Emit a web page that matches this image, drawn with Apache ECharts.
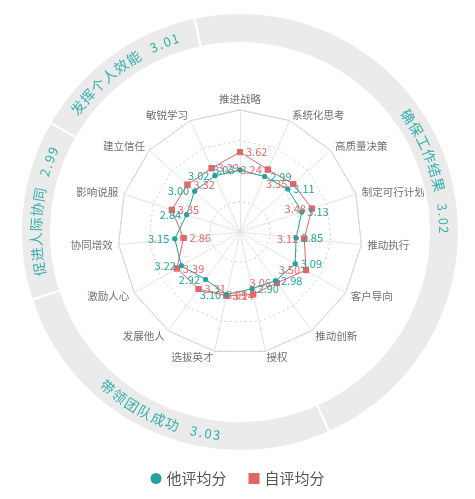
<!DOCTYPE html>
<html><head><meta charset="utf-8">
<script src="https://cdn.jsdelivr.net/npm/echarts@6/dist/echarts.min.js"></script>
<style>html,body{margin:0;padding:0;background:#fff}#c{width:475px;height:499px}</style>
</head><body><div id="c"></div>
<script>
// ---- data (listed clockwise from the top) ----
const indicators = ['推进战略','系统化思考','高质量决策','制定可行计划','推动执行','客户导向','推动创新','授权','选拔英才','发展他人','激励人心','协同增效','影响说服','建立信任','敏锐学习'];
const otherScores = [3.03, 2.99, 3.11, 3.13, 2.85, 3.09, 2.98, 2.90, 3.10, 2.92, 3.22, 3.15, 2.84, 3.00, 3.02];
const selfScores  = [3.62, 3.24, 3.35, 3.48, 3.12, 3.50, 3.06, 3.09, 3.14, 3.31, 3.39, 2.86, 3.35, 3.32, 3.29];
const groupNames  = ['确保工作结果','带领团队成功','促进人际协同','发挥个人效能'];
const groupSizes  = [7, 4, 2, 2];
const groupScores = ['3.02','3.03','2.99','3.01'];
const seriesNames = ['他评均分','自评均分'];
const axisMin = 1, axisMax = 5;

// ---- layout / style ----
const CX = 240, CY = 232, R = 122, RING_IN = 189, RING_OUT = 219;
const TEAL = '#23a29f', RED = '#e06767', RING_TEXT = '#36b0ad';
const FONT = '"Noto Sans CJK SC", "Microsoft YaHei", sans-serif';
const n = indicators.length, step = 360 / n;

// ECharts lays radar indicators counter-clockwise; reorder so they read clockwise
const order = indicators.map((_, k) => k === 0 ? 0 : n - k);
const reorder = arr => order.map(i => arr[i]);
const isRightOrig = i => { const a = i * step; return a > 0 && a < 180; };
const isRight = k => isRightOrig(order[k]);

function labelCfg(color, position, filter) {
  return {
    show: true, position, distance: 3, color, fontSize: 11, fontFamily: FONT,
    formatter: p => (p.dimensionIndex == null || filter(p.dimensionIndex)) ? Number(p.value).toFixed(2) : ''
  };
}
function item(name, values, color, symbol, size, position, filter, showLine) {
  return {
    name, value: reorder(values), symbol, symbolSize: size,
    itemStyle: { color },
    lineStyle: showLine ? { color, width: 1 } : { color, width: 0, opacity: 0 },
    label: labelCfg(color, position, filter)
  };
}

// ring text (characters laid along the ring)
function ringText() {
  const els = [];
  const rMid = (RING_IN + RING_OUT) / 2;
  let cum = 0;
  groupNames.forEach((g, gi) => {
    const startDeg = -step / 2 + cum * step;
    const centerDeg = startDeg + groupSizes[gi] * step / 2;
    cum += groupSizes[gi];
    const chars = [];
    for (const ch of g) chars.push({ ch, w: 15, size: 14 });
    chars.push({ ch: '', w: 11 });
    for (const ch of groupScores[gi]) chars.push({ ch, w: ch === '.' ? 6 : 8.5, size: 13 });
    const total = chars.reduce((s, c) => s + c.w, 0);
    const inward = centerDeg > 90 && centerDeg < 270;
    let off = 0;
    chars.forEach(c => {
      const mid = off + c.w / 2; off += c.w;
      if (!c.ch) return;
      const dDeg = (mid - total / 2) / rMid * 180 / Math.PI;
      const th = (inward ? centerDeg - dDeg : centerDeg + dDeg) * Math.PI / 180;
      els.push({
        type: 'text', silent: true, z: 10,
        x: CX + rMid * Math.sin(th), y: CY - rMid * Math.cos(th),
        rotation: inward ? Math.PI - th : -th,
        style: { text: c.ch, fill: RING_TEXT, font: c.size + 'px ' + FONT,
                 align: 'center', verticalAlign: 'middle', textAlign: 'center', textVerticalAlign: 'middle' }
      });
    });
  });
  return els;
}

const chart = echarts.init(document.getElementById('c'));
chart.setOption({
  backgroundColor: '#fff',
  animation: false,
  legend: {
    bottom: 8, left: 'center', itemGap: 22, itemWidth: 11, itemHeight: 11,
    textStyle: { fontSize: 15, color: '#555', fontFamily: FONT },
    data: [{ name: seriesNames[0], icon: 'circle' }, { name: seriesNames[1], icon: 'rect' }]
  },
  radar: [{
    center: [CX, CY], radius: R, startAngle: 90, splitNumber: 4, shape: 'polygon',
    indicator: reorder(indicators).map(name => ({ name, min: axisMin, max: axisMax })),
    nameGap: 6,
    axisName: { color: '#707070', fontSize: 10.5, fontFamily: FONT },
    splitLine: { lineStyle: { color: '#cfcfcf', type: [2, 3], width: 1 } },
    splitArea: { show: false },
    axisLine: { lineStyle: { color: '#e4e4e4', width: 1 } },
    axisTick: { show: false }, axisLabel: { show: false }
  }, {
    center: [CX, CY], radius: R, startAngle: 90, splitNumber: 1, shape: 'polygon',
    indicator: indicators.map(() => ({ name: '', min: axisMin, max: axisMax })),
    axisName: { show: false },
    splitLine: { lineStyle: { color: '#d4d4d4', width: 1 } },
    splitArea: { show: false },
    axisLine: { show: false }
  }],
  graphic: { elements: ringText() },
  series: [{
    type: 'pie', silent: true, center: [CX, CY], radius: [RING_IN, RING_OUT],
    startAngle: 90 + step / 2, clockwise: true,
    label: { show: false }, labelLine: { show: false }, emphasis: { disabled: true },
    itemStyle: { color: '#ebebeb', borderColor: '#fff', borderWidth: 2 },
    data: groupNames.map((name, i) => ({ name, value: groupSizes[i] }))
  }, {
    type: 'radar', radarIndex: 0, z: 3, emphasis: { disabled: true },
    data: [
      item(seriesNames[1], selfScores, RED, 'rect', 6, 'right', k => !isRight(k), true),
      item(seriesNames[1], selfScores, RED, 'rect', 6, 'left', k => isRight(k), false),
      item(seriesNames[0], otherScores, TEAL, 'circle', 5, 'left', k => !isRight(k), true),
      item(seriesNames[0], otherScores, TEAL, 'circle', 5, 'right', k => isRight(k), false)
    ]
  }]
});
</script></body></html>
